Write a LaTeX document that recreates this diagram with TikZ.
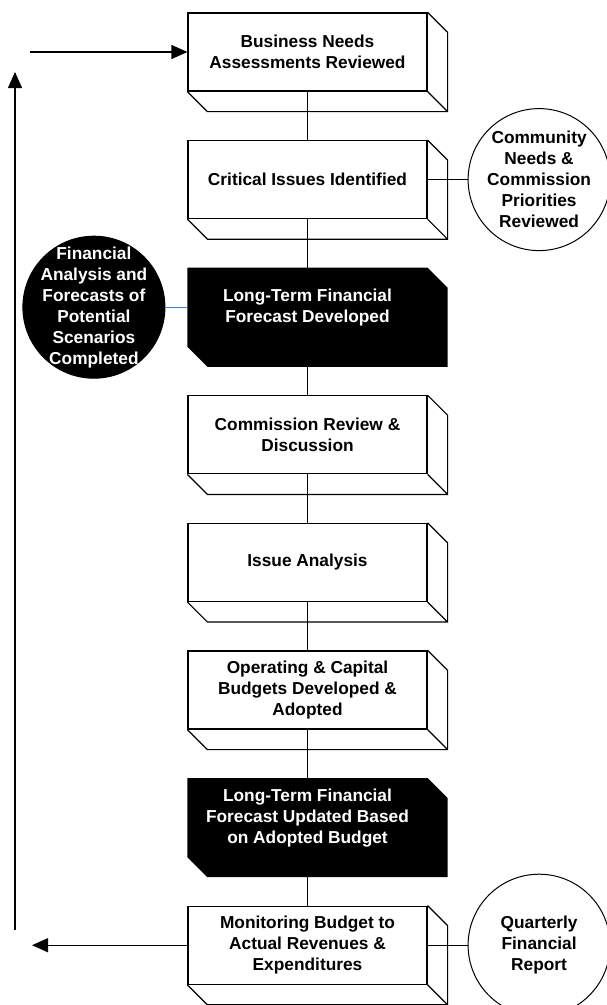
\documentclass[tikz,border=0pt]{standalone}
\usepackage{fontspec}
\setmainfont{Liberation Sans}
\usepackage{xcolor}
\usetikzlibrary{calc,positioning,arrows.meta,backgrounds}
\definecolor{linkblue}{RGB}{79,129,189}
\tikzset{
  stepbox/.style={
    draw,
    rectangle,
    line width=1.2pt,
    minimum width=239pt,
    minimum height=78pt,
    inner sep=0pt,
    align=center,
    font=\bfseries\fontsize{17.3}{21}\selectfont
  },
  darkbox/.style={stepbox, draw=none, text=white},
  roundnote/.style={
    draw,
    circle,
    line width=1pt,
    minimum size=142pt,
    inner sep=-20pt,
    align=center,
    font=\bfseries\fontsize{17.3}{21}\selectfont
  },
  darknote/.style={roundnote, fill=black, text=white},
  link/.style={line width=1.2pt},
  backarrow/.style={line width=1.2pt, -{Triangle[length=16pt,width=14pt]}}
}

\begin{document}
\begin{tikzpicture}[x=1pt,y=-1pt]
		\useasboundingbox (0,0) rectangle (606,1005);
		% main column
		\node[stepbox] at (307.5,52) (needs) {Business Needs\\ Assessments Reviewed};
		\node[stepbox,below=48.4pt of needs] (issues) {Critical Issues Identified};
		\node[darkbox,below=48.4pt of issues] (ltff) {Long-Term Financial\\ Forecast Developed};
		\node[stepbox,below=48.4pt of ltff] (review) {Commission Review \&\\ Discussion};
		\node[stepbox,below=48.4pt of review] (analysis) {Issue Analysis};
		\node[stepbox,below=48.4pt of analysis] (budgets) {Operating \& Capital\\ Budgets Developed \&\\ Adopted};
		\node[darkbox,below=48.4pt of budgets] (update) {Long-Term Financial\\ Forecast Updated Based\\ on Adopted Budget};
		\node[stepbox,below=48.4pt of update] (monitor) {Monitoring Budget to\\ Actual Revenues \&\\ Expenditures};
		% side circles
		\node[roundnote,right=40pt of issues] (community) {Community\\ Needs \&\\ Commission\\ Priorities\\ Reviewed};
		\node[darknote,left=22pt of ltff] (scenarios) {Financial\\ Analysis and\\ Forecasts of\\ Potential\\ Scenarios\\ Completed};
		\node[roundnote,right=40pt of monitor] (quarterly) {Quarterly\\ Financial\\ Report};
		% depth of the boxes
		\foreach \n in {needs,issues,review,analysis,budgets,monitor} {
			\draw[link] (\n.north east) -- ++(20,20) -- ($(\n.south east)+(20,20)$) -- ($(\n.south west)+(20,20)$) -- (\n.south west)
				(\n.south east) -- ++(20,20);
		};
		\begin{scope}[on background layer]
			\foreach \n in {ltff,update} {
				\fill (\n.north west) -- (\n.north east) -- ++(20,20) -- ($(\n.south east)+(20,20)$) -- ($(\n.south west)+(20,20)$) -- (\n.south west) -- cycle;
			};
		\end{scope}
		\foreach \a/\b in {needs/issues,issues/ltff,ltff/review,review/analysis,analysis/budgets,budgets/update,update/monitor} {
			\draw[link] (\a.south) -- (\b.north);
		};
		\draw[link] (issues.east) -- (community);
		\draw[link] (monitor.east) -- (quarterly);
		\draw[line width=1pt,linkblue] (scenarios) -- (ltff.west);
		% feedback loop
		\coordinate (backtip) at (32,938);
		\coordinate (risebot) at (15,930);
		\coordinate (risetop) at (15,72);
		\coordinate (feedin) at (30,52);
		\draw[backarrow] (monitor.west) -- (monitor.west -| backtip);
		\draw[backarrow] (risebot) -- (risetop);
		\draw[backarrow] (feedin) -- (needs.west);
	\end{tikzpicture}
\end{document}
